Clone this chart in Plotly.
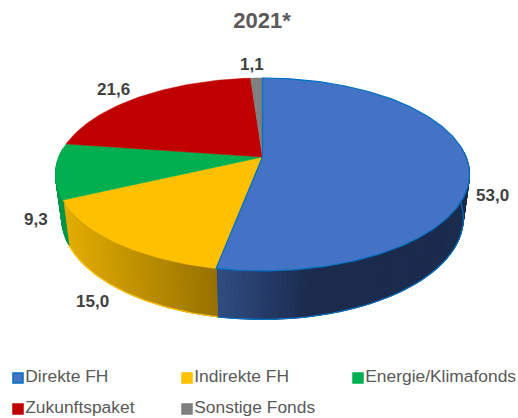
import math
import plotly.graph_objects as go

categories = ["Direkte FH", "Indirekte FH", "Energie/Klimafonds", "Zukunftspaket", "Sonstige Fonds"]
values = [53.0, 15.0, 9.3, 21.6, 1.1]
colors = ["#4472C4", "#FFC000", "#00B050", "#C00000", "#7F7F7F"]
title_text = "2021*"

# Projection of the tilted disc (pixel space of the 518x418 page)
W, H = 518, 418
CX, TOP_Y, BOT_Y = 262.5, 157, 200
RX, RY, RY_BOT, K, BOT_SCALE = 203.6, 93.3, 97.8, 0.181, 0.97
FONT = "Liberation Sans"

# Pixel placement of labels and legend entries
LABEL_XY = [(492, 195), (92, 301), (36, 219), (113, 89), (252, 64)]
LEGEND_XY = [(18, 378), (187, 378), (358, 378), (18, 409), (187, 409)]


def proj(theta, top=True):
    u, v = math.sin(theta), math.cos(theta)
    w = 1 + K * v
    if top:
        return CX + RX * u / w, TOP_Y - RY * v / w
    return CX + BOT_SCALE * RX * u / w, BOT_Y - RY_BOT * v / w


def lerp(c1, c2, f):
    f = max(0, min(1, f))
    return "rgb(%d,%d,%d)" % tuple(round(a + (b - a) * f) for a, b in zip(c1, c2))


def wall_color(i, x):
    if i == 0:
        return lerp((47, 76, 130), (26, 43, 78), (x - 217) / 90)
    if i == 1:
        return lerp((226, 172, 0), (150, 113, 0), (x - 65) / 152)
    if i == 2:
        return "rgb(0,150,70)"
    return colors[i]


total = sum(values)
edges = [0]
for v in values:
    edges.append(edges[-1] + v / total * 2 * math.pi)

fig = go.Figure()


def poly(xs, ys, color, line=None, lw=1, fill=True):
    fig.add_trace(go.Scatter(
        x=xs, y=ys, mode="lines", fill="toself" if fill else None,
        fillcolor=color if fill else None,
        line=dict(color=line or color, width=lw),
        hoverinfo="skip", showlegend=False,
    ))


# side walls
STEP = math.radians(1)
for i in range(len(values)):
    a, b = edges[i], edges[i + 1]
    n = max(1, int((b - a) / STEP))
    for j in range(n):
        t1 = a + (b - a) * j / n
        t2 = a + (b - a) * (j + 1) / n
        if math.cos((t1 + t2) / 2) > 0.1:
            continue
        p1, p2 = proj(t1), proj(t2)
        q1, q2 = proj(t1, False), proj(t2, False)
        c = wall_color(i, (p1[0] + p2[0]) / 2)
        poly([p1[0], p2[0], q2[0], q1[0], p1[0]], [p1[1], p2[1], q2[1], q1[1], p1[1]], c)
    # bottom rim
    ts = [a + (b - a) * j / 90 for j in range(91)]
    ts = [t for t in ts if math.cos(t) <= 0.1]
    if i in (0, 1) and ts:
        pts = [proj(t, False) for t in ts]
        poly([p[0] for p in pts], [p[1] for p in pts],
             "#0070C0" if i == 0 else "#FFC000", lw=1.2, fill=False)
    if i == 0 and ts:
        q, p = proj(b, False), proj(b)
        poly([p[0], q[0]], [p[1], q[1]], "#1F5FA8", lw=1, fill=False)

# top faces (blue last so its rim stays on top)
for i in [1, 2, 3, 4, 0]:
    a, b = edges[i], edges[i + 1]
    n = max(4, int((b - a) / math.radians(1)))
    pts = [proj(a + (b - a) * j / n) for j in range(n + 1)]
    xs = [CX] + [p[0] for p in pts] + [CX]
    ys = [TOP_Y] + [p[1] for p in pts] + [TOP_Y]
    poly(xs, ys, colors[i], line="#0070C0" if i == 0 else colors[i], lw=1.2 if i == 0 else 0.5)

# legend entries, drawn in a 3-column grid
for name, col, (lx, ly) in zip(categories, colors, LEGEND_XY):
    fig.add_trace(go.Scatter(
        x=[lx], y=[ly], mode="markers+text", text=[name], textposition="middle right",
        textfont=dict(family=FONT, size=17.4, color="#595959"),
        marker=dict(symbol="square", size=10,
                    color=col, line=dict(color="#0070C0" if col == "#4472C4" else col, width=1.5)),
        hoverinfo="skip", showlegend=False, cliponaxis=False,
    ))

annotations = [
    dict(x=lx, y=ly, xref="x", yref="y", text="<b>%s</b>" % f"{v:.1f}".replace(".", ","),
         showarrow=False, xanchor="center", yanchor="middle",
         font=dict(family=FONT, size=17, color="#404040"))
    for v, (lx, ly) in zip(values, LABEL_XY)
]

fig.update_layout(
    width=W, height=H, margin=dict(l=0, r=0, t=0, b=0),
    paper_bgcolor="white", plot_bgcolor="white", showlegend=False,
    title=dict(text="<b>%s</b>" % title_text, x=262 / W,
               xanchor="center", xref="paper",
               y=1 - 20 / H, yanchor="middle", yref="container",
               font=dict(family=FONT, size=22, color="#595959")),
    xaxis=dict(range=[0, W], visible=False, fixedrange=True),
    yaxis=dict(range=[H, 0], visible=False, fixedrange=True),
    annotations=annotations,
)
fig.write_html("out.html", config={"displayModeBar": False},
               post_script="document.body.style.margin='0';document.documentElement.style.overflow='hidden';")
